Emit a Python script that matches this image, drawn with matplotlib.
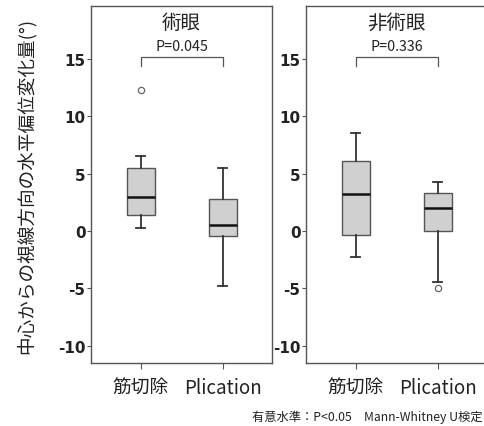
import numpy as np
import matplotlib.pyplot as plt

plt.rcParams['font.family'] = ['Noto Sans CJK JP', 'DejaVu Sans']

groups = ['筋切除', 'Plication']
panel_titles = ['術眼', '非術眼']
p_texts = ['P=0.045', 'P=0.336']

# 術眼
op_lo = [0.25, -4.75]
op_q1 = [1.4, -0.45]
op_med = [3.0, 0.5]
op_q3 = [5.5, 2.8]
op_hi = [6.5, 5.5]
op_fliers = [[12.3], []]

# 非術眼
fe_lo = [-2.25, -4.45]
fe_q1 = [-0.35, 0.0]
fe_med = [3.2, 2.0]
fe_q3 = [6.1, 3.3]
fe_hi = [8.5, 4.3]
fe_fliers = [[], [-5.0]]

yticks = [-10, -5, 0, 5, 10, 15]
ytick_labels = ['-10', '-5', '0', '5', '10', '15']

bracket_top = 15.2
bracket_leg = 14.4


def make_stats(lo, q1, med, q3, hi, fliers):
    out = []
    for i in range(len(groups)):
        out.append({'whislo': lo[i], 'q1': q1[i], 'med': med[i], 'q3': q3[i],
                    'whishi': hi[i], 'fliers': fliers[i], 'label': groups[i]})
    return out


fig = plt.figure(figsize=(4.85, 4.27), dpi=100)
ax1 = fig.add_axes([0.1876, 0.1475, 0.3732, 0.836])
ax2 = fig.add_axes([0.6309, 0.1475, 0.3732, 0.836])

panels = [(ax1, make_stats(op_lo, op_q1, op_med, op_q3, op_hi, op_fliers)),
          (ax2, make_stats(fe_lo, fe_q1, fe_med, fe_q3, fe_hi, fe_fliers))]

edge = '#555555'
for k, (ax, stats) in enumerate(panels):
    ax.bxp(stats, positions=[1, 2], widths=0.34, capwidths=0.11, patch_artist=True,
           boxprops=dict(facecolor='#d0d0d0', edgecolor=edge, linewidth=1.0),
           whiskerprops=dict(color='#333333', linewidth=1.3),
           capprops=dict(color='#333333', linewidth=1.3),
           medianprops=dict(color='#111111', linewidth=1.8),
           flierprops=dict(marker='o', markersize=4.5, markerfacecolor='white',
                           markeredgecolor='#666666', markeredgewidth=0.9))
    ax.set_xlim(0.39, 2.6)
    ax.set_ylim(-11.5, 19.6)
    ax.set_yticks(yticks)
    ax.set_yticklabels(ytick_labels, fontweight='bold', fontsize=11, family='DejaVu Sans')
    ax.set_xticks([1, 2])
    ax.set_xticklabels(groups, fontsize=13.5, color='#222222')
    ax.tick_params(axis='y', length=3, width=0.8, color=edge, pad=1, labelcolor='#222222')
    ax.tick_params(axis='x', length=4, width=0.8, color=edge, pad=6)
    for s in ax.spines.values():
        s.set_color(edge)
        s.set_linewidth(1.0)
    ax.plot([1, 1, 2, 2], [bracket_leg, bracket_top, bracket_top, bracket_leg],
            color='#555555', linewidth=0.9)
    ax.text(0.5, 0.955, panel_titles[k], transform=ax.transAxes, ha='center', va='center',
            fontsize=14, color='#222222')
    ax.text(0.5, 0.888, p_texts[k], transform=ax.transAxes, ha='center', va='center',
            fontsize=10.3, color='#222222')

fig.text(0.054, 0.564, '中心からの視線方向の水平偏位変化量(°)', rotation=90,
         ha='center', va='center', fontsize=13.4, color='#222222')
fig.text(0.996, 0.022, '有意水準：P<0.05　Mann-Whitney U検定', ha='right', va='center',
         fontsize=8.8, color='#222222')

fig.savefig('out.png', dpi=100)
